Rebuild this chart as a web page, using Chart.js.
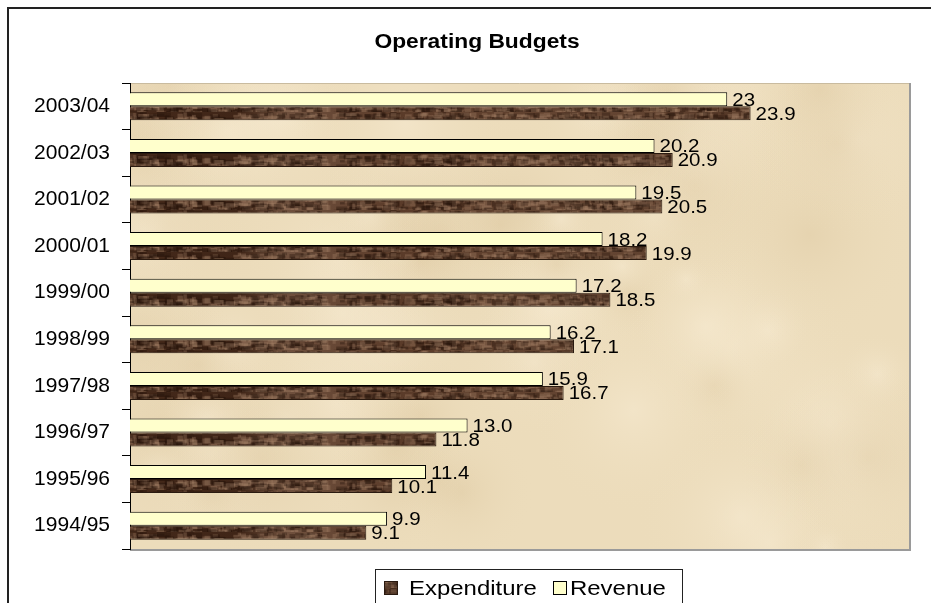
<!DOCTYPE html>
<html lang="en">
<head>
<meta charset="utf-8" />
<title>Operating Budgets</title>
<script src="https://cdn.jsdelivr.net/npm/chart.js@4.4.0/dist/chart.umd.min.js"></script>
<style>
    html, body { margin: 0; padding: 0; background: #fff; }
</style>
</head>
<body>
<canvas id="myChart" width="931" height="603"></canvas>
<script>
    // Chart data, oldest year first
    var years = ['1994/95', '1995/96', '1996/97', '1997/98', '1998/99', '1999/00', '2000/01', '2001/02', '2002/03', '2003/04'];
    var expenditure = [9.1, 10.1, 11.8, 16.7, 17.1, 18.5, 19.9, 20.5, 20.9, 23.9];
    var revenue = [9.9, 11.4, 13.0, 15.9, 16.2, 17.2, 18.2, 19.5, 20.2, 23];
    var expenditureText = ['9.1', '10.1', '11.8', '16.7', '17.1', '18.5', '19.9', '20.5', '20.9', '23.9'];
    var revenueText = ['9.9', '11.4', '13.0', '15.9', '16.2', '17.2', '18.2', '19.5', '20.2', '23'];
    var xRange = [0, 30];

    var FONT = '"Liberation Sans", Arial, sans-serif';
    var STRETCH = 1.14;

    //Small deterministic hash used for the paper / wood textures.
    function hash(n) {
        var s = Math.sin(n * 127.1 + 311.7) * 43758.5453;
        return s - Math.floor(s);
    }

    function makeBrownPattern(ctx) {
        var c = document.createElement('canvas');
        c.width = 800; c.height = 14;
        var g = c.getContext('2d');
        var grad = g.createLinearGradient(0, 0, 800, 0);
        grad.addColorStop(0, '#4b2e1e');
        grad.addColorStop(0.3, '#3f2517');
        grad.addColorStop(0.36, '#6f503d');
        grad.addColorStop(0.5, '#5a3b29');
        grad.addColorStop(0.75, '#654633');
        grad.addColorStop(1, '#4e3222');
        g.fillStyle = grad;
        g.fillRect(0, 0, 800, 14);
        for (var i = 0; i < 900; i++) {
            var x = hash(i) * 800, y = hash(i + 5000) * 14;
            var w = 3 + hash(i + 9000) * 9, h = 2 + hash(i + 13000) * 4;
            var light = hash(i + 17000) > 0.5;
            g.fillStyle = light ? 'rgba(160,125,100,0.35)' : 'rgba(35,18,10,0.35)';
            g.fillRect(x, y, w, h);
        }
        return ctx.createPattern(c, 'repeat');
    }

    var parchment = null;
    function makeParchment(w, h) {
        var c = document.createElement('canvas');
        c.width = w; c.height = h;
        var g = c.getContext('2d');
        g.fillStyle = '#ecdcbb';
        g.fillRect(0, 0, w, h);
        for (var i = 0; i < 70; i++) {
            var x = hash(i * 3 + 1) * w, y = hash(i * 3 + 2) * h, r = 25 + hash(i * 3 + 3) * 90;
            var light = hash(i + 77) > 0.45;
            var rg = g.createRadialGradient(x, y, 0, x, y, r);
            rg.addColorStop(0, light ? 'rgba(248,236,212,0.5)' : 'rgba(215,192,150,0.3)');
            rg.addColorStop(1, 'rgba(236,220,187,0)');
            g.fillStyle = rg;
            g.fillRect(x - r, y - r, 2 * r, 2 * r);
        }
        return c;
    }

    function stretchedText(ctx, text, x, y, font, align) {
        ctx.save();
        ctx.font = font;
        ctx.textBaseline = 'alphabetic';
        var w = ctx.measureText(text).width * STRETCH;
        var left = align === 'center' ? x - w / 2 : x;
        ctx.translate(left, y);
        ctx.scale(STRETCH, 1);
        ctx.textAlign = 'left';
        ctx.fillText(text, 0, 0);
        ctx.restore();
    }

    var framePlugin = {
        id: 'frame',
        beforeDraw: function (chart) {
            var ctx = chart.ctx, a = chart.chartArea;
            ctx.save();
            ctx.fillStyle = '#fff';
            ctx.fillRect(0, 0, chart.width, chart.height);
            if (!parchment) parchment = makeParchment(Math.round(a.right - a.left), Math.round(a.bottom - a.top));
            ctx.drawImage(parchment, a.left, a.top);
            //Plot area edges
            ctx.strokeStyle = '#c9bb9f';
            ctx.lineWidth = 1;
            ctx.beginPath();
            ctx.moveTo(a.left, a.top + 0.5); ctx.lineTo(a.right, a.top + 0.5);
            ctx.stroke();
            ctx.strokeStyle = '#9a9a9a';
            ctx.lineWidth = 2;
            ctx.beginPath();
            ctx.moveTo(a.right + 1, a.top); ctx.lineTo(a.right + 1, a.bottom + 1);
            ctx.lineTo(a.left, a.bottom + 1);
            ctx.stroke();
            ctx.restore();
        },
        afterDraw: function (chart) {
            var ctx = chart.ctx;
            ctx.save();
            ctx.fillStyle = '#000';

            //Value labels at the bar ends
            var texts = [revenueText.slice().reverse(), expenditureText.slice().reverse()];
            chart.data.datasets.forEach(function (ds, di) {
                chart.getDatasetMeta(di).data.forEach(function (bar, i) {
                    stretchedText(ctx, texts[di][i], bar.x + 5, bar.y + 6.5, '18px ' + FONT, 'left');
                });
            });

            //Title
            stretchedText(ctx, 'Operating Budgets', 477, 48, 'bold 20px ' + FONT, 'center');

            //Outer frame
            ctx.strokeStyle = '#222';
            ctx.lineWidth = 2;
            ctx.strokeRect(8, 8, 940, 640);

            //Legend box
            ctx.strokeStyle = '#222';
            ctx.lineWidth = 1;
            ctx.strokeRect(375.5, 569.5, 307, 60);
            var items = [
                { ds: chart.data.datasets[1], x: 384, tx: 409 },
                { ds: chart.data.datasets[0], x: 553, tx: 570 }
            ];
            items.forEach(function (it) {
                ctx.fillStyle = it.ds.backgroundColor;
                ctx.fillRect(it.x, 581, 14, 14);
                ctx.strokeStyle = it.ds.borderColor;
                ctx.strokeRect(it.x + 0.5, 581.5, 13, 13);
                ctx.fillStyle = '#000';
                stretchedText(ctx, it.ds.label, it.tx, 595, '21px ' + FONT, 'left');
            });
            ctx.restore();
        }
    };

    var canvas = document.getElementById('myChart');
    var brown = makeBrownPattern(canvas.getContext('2d'));

    var chart = new Chart(canvas, {
        type: 'bar',
        data: {
            labels: years.slice().reverse(),
            datasets: [{
                label: 'Revenue',
                data: revenue.slice().reverse(),
                backgroundColor: '#ffffcc',
                borderColor: '#000',
                borderWidth: 1,
                categoryPercentage: 0.6,
                barPercentage: 1.0
            }, {
                label: 'Expenditure',
                data: expenditure.slice().reverse(),
                backgroundColor: brown,
                borderColor: '#2a1a10',
                borderWidth: 1,
                categoryPercentage: 0.6,
                barPercentage: 1.0
            }]
        },
        options: {
            indexAxis: 'y',
            responsive: false,
            animation: false,
            layout: { padding: { left: 0, right: 22, top: 83, bottom: 54 } },
            plugins: {
                legend: { display: false },
                title: { display: false },
                tooltip: { enabled: false }
            },
            scales: {
                x: { display: false, min: xRange[0], max: xRange[1] },
                y: {
                    grid: { drawOnChartArea: false, drawTicks: true, tickLength: 8, color: '#000', offset: true },
                    border: { display: true, color: '#000', width: 1 },
                    ticks: { color: '#000', font: { family: FONT, size: 21 }, padding: 12 },
                    afterFit: function (scale) { scale.width = 130; }
                }
            }
        },
        plugins: [framePlugin]
    });
</script>
</body>
</html>
